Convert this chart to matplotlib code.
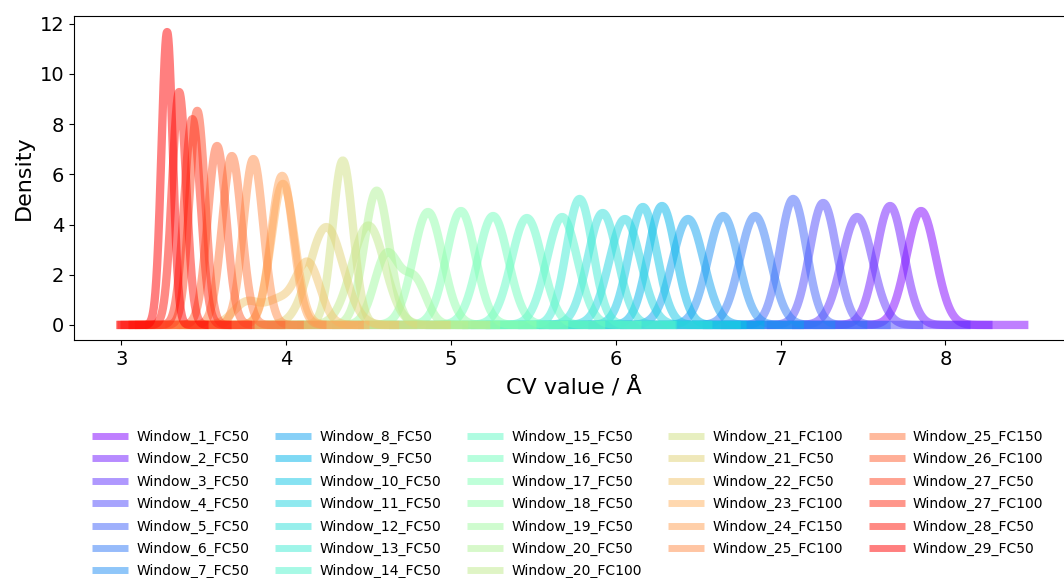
import numpy as np
import matplotlib
matplotlib.use("Agg")
import matplotlib.pyplot as plt

# Umbrella-sampling windows (legend order)
window_labels = [
    "Window_1_FC50", "Window_2_FC50", "Window_3_FC50", "Window_4_FC50",
    "Window_5_FC50", "Window_6_FC50", "Window_7_FC50", "Window_8_FC50",
    "Window_9_FC50", "Window_10_FC50", "Window_11_FC50", "Window_12_FC50",
    "Window_13_FC50", "Window_14_FC50", "Window_15_FC50", "Window_16_FC50",
    "Window_17_FC50", "Window_18_FC50", "Window_19_FC50", "Window_20_FC50",
    "Window_20_FC100", "Window_21_FC100", "Window_21_FC50", "Window_22_FC50",
    "Window_23_FC100", "Window_24_FC150", "Window_25_FC100", "Window_25_FC150",
    "Window_26_FC100", "Window_27_FC50", "Window_27_FC100", "Window_28_FC50",
    "Window_29_FC50",
]

# Main mode of each window's density: position (Å), height, spread (Å)
peak_cv = [7.852, 7.664, 7.464, 7.258, 7.076, 6.845, 6.651, 6.438,
           6.280, 6.164, 6.055, 5.920, 5.780, 5.674, 5.460, 5.255,
           5.060, 4.860, 4.610, 4.549, 4.498, 4.343, 4.243, 4.130,
           3.980, 3.975, 3.800, 3.670, 3.580, 3.460, 3.430, 3.350,
           3.277]
peak_density = [4.54, 4.74, 4.30, 4.86, 5.02, 4.34, 4.34, 4.22,
                4.74, 4.70, 4.22, 4.46, 5.02, 4.30, 4.26, 4.34,
                4.54, 4.50, 2.80, 5.35, 3.96, 6.55, 3.90, 2.45,
                5.62, 5.94, 6.61, 6.73, 7.13, 8.53, 8.20, 9.28,
                11.67]
peak_width = [0.088, 0.084, 0.093, 0.082, 0.080, 0.092, 0.092, 0.095,
              0.084, 0.085, 0.095, 0.090, 0.080, 0.093, 0.094, 0.092,
              0.088, 0.089, 0.075, 0.075, 0.100, 0.061, 0.102, 0.075,
              0.071, 0.067, 0.060, 0.059, 0.056, 0.047, 0.049, 0.043,
              0.034]

# Secondary modes (shoulders / low-CV tails)
shoulder_window = ["Window_19_FC50", "Window_22_FC50", "Window_22_FC50"]
shoulder_cv = [4.78, 3.76, 3.95]
shoulder_density = [1.75, 0.90, 0.90]
shoulder_width = [0.070, 0.080, 0.080]

# How far each KDE curve is drawn below / above its modes (in spreads)
tail_low, tail_high = 8.9, 7.4

colors = plt.cm.rainbow(np.linspace(0, 1, len(window_labels)))

fig = plt.figure(figsize=(10.64, 5.78), dpi=100)
ax = fig.add_axes([74 / 1064, 1 - 340 / 578, 1000 / 1064, 324 / 578])

for i, label in enumerate(window_labels):
    comps = [(peak_cv[i], peak_density[i], peak_width[i])]
    for j, w in enumerate(shoulder_window):
        if w == label:
            comps.append((shoulder_cv[j], shoulder_density[j], shoulder_width[j]))
    lo = min(c - tail_low * s for c, h, s in comps)
    hi = max(c + tail_high * s for c, h, s in comps)
    x = np.linspace(lo, hi, 600)
    y = np.zeros_like(x)
    for c, h, s in comps:
        y += h * np.exp(-0.5 * ((x - c) / s) ** 2)
    ax.plot(x, y, color=colors[i], lw=6, alpha=0.5, label=label,
            solid_capstyle="butt")

ax.set_xlim(2.712, 2.712 + 1000 / 164.8)
ax.set_ylim(-0.6, 12.31)
ax.set_xticks([3, 4, 5, 6, 7, 8])
ax.set_yticks([0, 2, 4, 6, 8, 10, 12])
ax.tick_params(labelsize=14)
ax.set_xlabel("CV value / Å", fontsize=16, labelpad=5)
ax.set_ylabel("Density", fontsize=16)

leg = fig.legend(loc="upper left", bbox_to_anchor=(92 / 1064, 1 - 429.5 / 578),
                 ncol=5, frameon=False, fontsize=10, borderpad=0,
                 borderaxespad=0, handlelength=2.6, handletextpad=0.6,
                 columnspacing=1.85, labelspacing=0.6)
for h in leg.get_lines():
    h.set_linewidth(5)

fig.savefig("out.png", dpi=100)
